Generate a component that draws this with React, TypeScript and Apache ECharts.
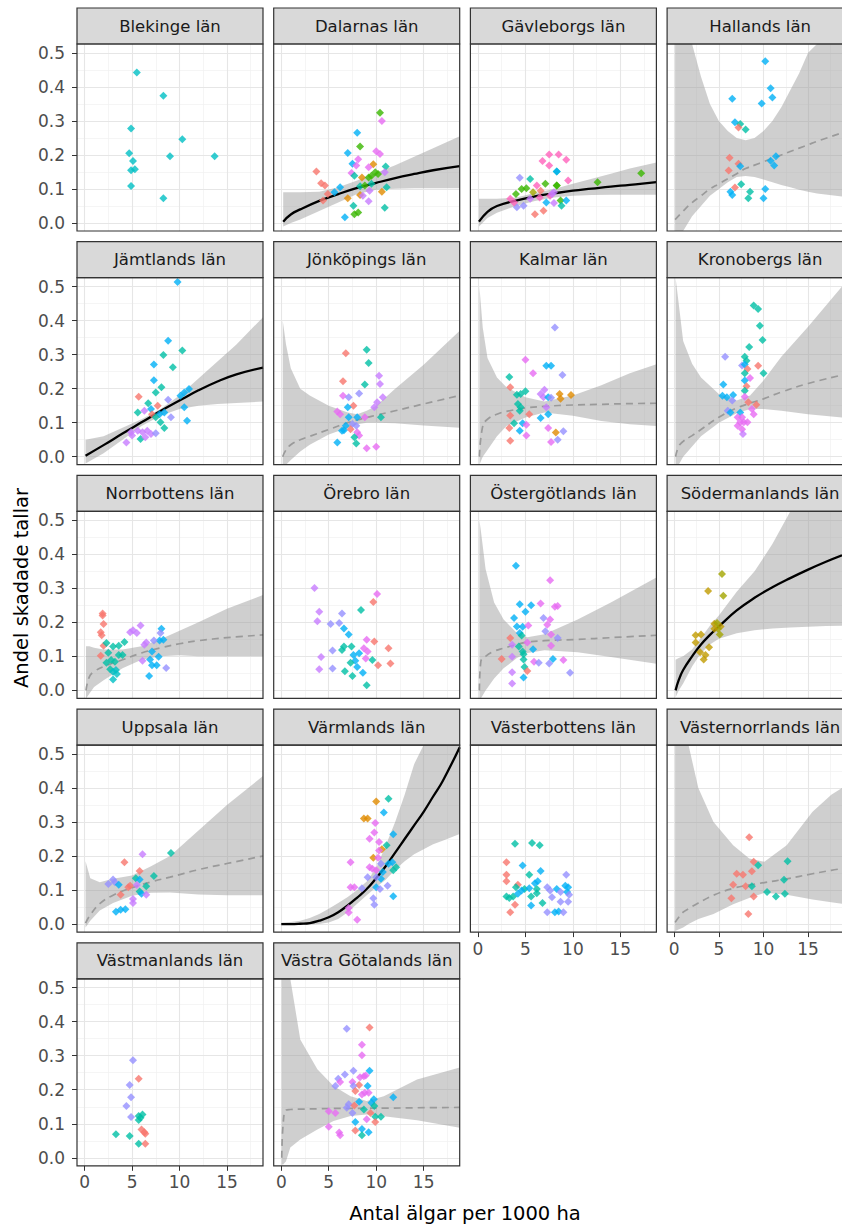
import React, { useEffect, useRef } from "react";
import * as echarts from "echarts";

type Pt = [number, number, string];

const COLORS: Record<string, string> = {
  r: "#F8766D", o: "#E08B00", y: "#C09B00", l: "#A3A500", g: "#39B600",
  t: "#00BFA5", c: "#00BFC4", b: "#00B0F6", v: "#9590FF", u: "#C77CFF",
  m: "#E76BF3", p: "#FF62BC",
};

const xMajor = [0, 5, 10, 15];
const xMinor = [2.5, 7.5, 12.5, 17.5];
const yMajor = [0, 0.1, 0.2, 0.3, 0.4, 0.5];
const yMinor = [0.05, 0.15, 0.25, 0.35, 0.45];

const countyNames = [
  "Blekinge län", "Dalarnas län", "Gävleborgs län", "Hallands län",
  "Jämtlands län", "Jönköpings län", "Kalmar län", "Kronobergs län",
  "Norrbottens län", "Örebro län", "Östergötlands län", "Södermanlands län",
  "Uppsala län", "Värmlands län", "Västerbottens län", "Västernorrlands län",
  "Västmanlands län", "Västra Götalands län",
];

// ---------- points ----------
const blekingePts: Pt[] = [[5.5,0.442,"c"],[8.3,0.374,"c"],[4.9,0.278,"c"],[10.3,0.246,"c"],[4.7,0.205,"c"],[9.0,0.196,"c"],[13.7,0.196,"c"],[5.1,0.182,"c"],[4.9,0.155,"c"],[5.3,0.158,"c"],[4.9,0.109,"c"],[8.3,0.073,"c"]];
const dalarnaPts: Pt[] = [[10.4,0.324,"g"],[10.6,0.300,"m"],[8.0,0.265,"b"],[8.3,0.225,"g"],[7.0,0.206,"b"],[8.1,0.187,"m"],[10.0,0.211,"m"],[10.4,0.203,"m"],[3.7,0.151,"r"],[7.5,0.174,"b"],[7.9,0.169,"m"],[9.7,0.173,"o"],[9.2,0.164,"m"],[11.0,0.166,"t"],[7.4,0.147,"m"],[7.7,0.139,"t"],[8.5,0.134,"o"],[9.2,0.134,"g"],[9.5,0.139,"g"],[9.9,0.149,"g"],[10.2,0.144,"g"],[10.9,0.149,"u"],[4.2,0.117,"r"],[4.6,0.110,"r"],[6.2,0.105,"b"],[5.6,0.090,"b"],[4.9,0.085,"r"],[8.3,0.108,"t"],[8.8,0.110,"g"],[11.1,0.105,"t"],[10.6,0.092,"o"],[9.3,0.095,"u"],[7.0,0.073,"o"],[8.3,0.082,"o"],[8.6,0.080,"u"],[7.6,0.051,"t"],[9.2,0.064,"u"],[7.7,0.026,"g"],[8.1,0.031,"g"],[6.7,0.017,"b"],[10.9,0.045,"t"],[4.4,0.066,"r"],[9.5,0.115,"t"]];
const gavleborgPts: Pt[] = [[7.5,0.201,"p"],[6.8,0.182,"p"],[4.4,0.133,"v"],[5.5,0.129,"t"],[8.3,0.151,"t"],[7.5,0.169,"p"],[4.6,0.100,"g"],[5.1,0.102,"g"],[6.2,0.110,"p"],[7.1,0.115,"g"],[8.3,0.110,"g"],[3.4,0.071,"p"],[4.1,0.046,"v"],[4.8,0.051,"v"],[6.0,0.026,"r"],[6.9,0.036,"r"],[5.5,0.071,"u"],[6.5,0.075,"p"],[7.6,0.080,"p"],[8.0,0.090,"u"],[8.5,0.201,"p"],[9.3,0.186,"p"],[8.3,0.151,"b"],[9.5,0.125,"p"],[8.3,0.110,"g"],[7.8,0.085,"u"],[8.7,0.066,"g"],[8.8,0.051,"t"],[9.3,0.066,"b"],[8.0,0.059,"u"],[12.6,0.120,"g"],[17.2,0.146,"g"],[5.8,0.090,"l"],[6.6,0.095,"r"],[4.0,0.085,"g"],[7.2,0.060,"b"],[3.8,0.060,"p"]];
const hallandPts: Pt[] = [[10.2,0.475,"b"],[10.8,0.396,"b"],[11.0,0.369,"b"],[9.8,0.351,"b"],[6.5,0.365,"b"],[6.8,0.296,"b"],[7.4,0.291,"t"],[7.2,0.281,"r"],[8.0,0.275,"t"],[6.2,0.192,"r"],[7.2,0.174,"r"],[7.4,0.167,"b"],[6.1,0.154,"r"],[11.4,0.196,"b"],[10.8,0.183,"b"],[11.2,0.169,"b"],[7.5,0.114,"t"],[6.8,0.104,"r"],[6.3,0.092,"b"],[6.5,0.082,"b"],[8.5,0.092,"t"],[8.3,0.073,"t"],[10.2,0.100,"b"],[10.0,0.073,"b"]];
const jamtlandPts: Pt[] = [[9.8,0.513,"b"],[8.8,0.341,"b"],[10.3,0.312,"t"],[8.3,0.299,"t"],[7.3,0.271,"b"],[9.3,0.263,"t"],[7.3,0.225,"b"],[8.1,0.204,"t"],[7.5,0.189,"t"],[11.0,0.199,"b"],[10.5,0.189,"b"],[10.1,0.179,"b"],[5.7,0.176,"r"],[8.8,0.167,"v"],[6.7,0.157,"t"],[5.6,0.130,"t"],[6.3,0.135,"u"],[7.0,0.140,"b"],[7.7,0.150,"r"],[7.1,0.125,"r"],[7.9,0.125,"b"],[8.4,0.130,"b"],[9.1,0.116,"v"],[7.5,0.116,"t"],[10.5,0.145,"b"],[10.8,0.106,"b"],[8.0,0.101,"t"],[8.4,0.084,"t"],[5.6,0.076,"u"],[6.1,0.072,"u"],[6.6,0.076,"u"],[5.0,0.062,"u"],[7.0,0.067,"u"],[7.5,0.069,"v"],[4.4,0.042,"u"],[5.9,0.052,"t"],[6.4,0.057,"u"],[4.9,0.072,"u"]];
const jonkopingPts: Pt[] = [[6.8,0.304,"r"],[9.0,0.314,"t"],[9.2,0.275,"t"],[6.5,0.222,"r"],[10.3,0.238,"u"],[10.4,0.214,"u"],[8.8,0.212,"t"],[8.2,0.186,"v"],[6.5,0.179,"m"],[7.1,0.175,"v"],[7.6,0.150,"r"],[7.0,0.145,"b"],[10.7,0.175,"u"],[10.1,0.160,"u"],[9.8,0.145,"u"],[5.9,0.133,"m"],[6.2,0.125,"m"],[7.1,0.116,"b"],[8.0,0.116,"b"],[8.8,0.116,"m"],[10.5,0.116,"t"],[7.5,0.096,"v"],[6.6,0.078,"b"],[7.3,0.081,"r"],[8.0,0.072,"m"],[8.2,0.062,"m"],[5.9,0.042,"b"],[7.7,0.057,"t"],[7.9,0.039,"t"],[9.0,0.025,"m"],[10.0,0.029,"m"],[6.8,0.091,"b"],[6.4,0.076,"b"],[7.9,0.091,"v"]];
const kalmarPts: Pt[] = [[8.1,0.380,"v"],[5.0,0.285,"m"],[7.2,0.267,"b"],[7.7,0.267,"b"],[5.8,0.245,"m"],[8.9,0.240,"v"],[3.3,0.234,"t"],[3.4,0.204,"r"],[4.1,0.182,"t"],[4.5,0.184,"t"],[5.0,0.192,"t"],[6.6,0.184,"u"],[7.0,0.197,"u"],[6.9,0.175,"u"],[7.4,0.175,"b"],[7.7,0.173,"v"],[8.6,0.184,"o"],[8.7,0.170,"o"],[9.8,0.181,"o"],[4.2,0.155,"t"],[4.5,0.145,"t"],[4.4,0.135,"t"],[5.4,0.125,"r"],[7.2,0.145,"u"],[7.4,0.125,"b"],[3.4,0.121,"r"],[6.6,0.114,"b"],[3.8,0.098,"t"],[4.7,0.098,"b"],[5.1,0.094,"m"],[3.3,0.084,"r"],[4.4,0.076,"b"],[7.4,0.084,"m"],[8.2,0.071,"o"],[9.0,0.075,"v"],[5.1,0.062,"m"],[3.4,0.047,"r"],[7.7,0.043,"m"],[8.4,0.050,"v"]];
const kronobergPts: Pt[] = [[8.9,0.444,"t"],[9.4,0.434,"t"],[9.6,0.385,"t"],[9.9,0.343,"t"],[8.4,0.322,"t"],[5.7,0.294,"v"],[7.9,0.294,"t"],[8.1,0.282,"t"],[7.6,0.268,"v"],[7.9,0.271,"b"],[9.4,0.267,"r"],[8.2,0.258,"r"],[10.0,0.245,"t"],[7.9,0.245,"t"],[8.5,0.231,"m"],[7.9,0.224,"b"],[8.1,0.207,"r"],[7.9,0.194,"t"],[5.5,0.212,"b"],[5.4,0.179,"b"],[5.9,0.175,"b"],[6.6,0.181,"b"],[6.5,0.165,"v"],[7.9,0.176,"m"],[8.3,0.160,"r"],[9.2,0.153,"r"],[6.0,0.135,"v"],[6.3,0.130,"b"],[7.4,0.130,"b"],[8.7,0.140,"m"],[8.9,0.125,"m"],[7.1,0.116,"m"],[7.6,0.116,"m"],[7.8,0.101,"m"],[7.4,0.101,"m"],[8.2,0.101,"m"],[7.6,0.081,"m"],[7.7,0.067,"u"],[7.1,0.091,"m"]];
const norrbottenPts: Pt[] = [[1.9,0.226,"r"],[1.9,0.220,"r"],[2.0,0.195,"r"],[1.7,0.171,"r"],[1.8,0.162,"r"],[2.0,0.131,"r"],[1.7,0.102,"r"],[2.3,0.139,"t"],[2.5,0.111,"t"],[3.0,0.129,"t"],[3.6,0.131,"t"],[4.2,0.142,"t"],[2.3,0.081,"t"],[2.8,0.089,"t"],[3.2,0.084,"t"],[3.6,0.104,"t"],[4.0,0.104,"t"],[2.7,0.062,"t"],[3.0,0.055,"c"],[3.3,0.060,"c"],[3.0,0.032,"c"],[3.4,0.048,"c"],[4.8,0.171,"u"],[5.1,0.177,"u"],[5.5,0.169,"u"],[5.9,0.191,"u"],[6.5,0.141,"u"],[6.3,0.134,"u"],[6.1,0.087,"u"],[7.1,0.114,"b"],[6.9,0.091,"b"],[6.8,0.042,"b"],[7.1,0.074,"b"],[7.6,0.074,"b"],[8.1,0.181,"b"],[8.0,0.169,"v"],[7.9,0.147,"b"],[8.3,0.149,"b"],[7.8,0.099,"b"],[8.6,0.066,"v"],[7.3,0.147,"v"]];
const orebroPts: Pt[] = [[3.5,0.301,"u"],[4.0,0.231,"u"],[3.8,0.203,"u"],[4.2,0.098,"u"],[4.0,0.062,"u"],[5.4,0.064,"v"],[5.4,0.117,"v"],[5.2,0.195,"v"],[6.1,0.198,"v"],[6.4,0.226,"v"],[6.6,0.182,"b"],[7.1,0.164,"b"],[6.4,0.119,"t"],[6.6,0.129,"t"],[7.4,0.129,"t"],[7.6,0.104,"b"],[8.2,0.109,"b"],[7.8,0.087,"b"],[8.0,0.069,"b"],[7.3,0.081,"t"],[6.7,0.056,"t"],[7.5,0.042,"t"],[8.4,0.236,"t"],[8.6,0.052,"b"],[9.0,0.015,"t"],[9.6,0.089,"t"],[9.0,0.149,"m"],[8.7,0.124,"m"],[9.1,0.114,"m"],[8.9,0.094,"m"],[9.7,0.260,"r"],[10.1,0.283,"m"],[9.8,0.144,"r"],[10.2,0.074,"r"],[11.3,0.124,"r"],[11.5,0.079,"r"]];
const ostergotlandPts: Pt[] = [[4.0,0.366,"b"],[7.6,0.324,"m"],[4.4,0.253,"b"],[5.6,0.250,"b"],[6.6,0.255,"m"],[8.1,0.246,"m"],[8.4,0.248,"m"],[5.0,0.231,"b"],[3.8,0.213,"b"],[6.9,0.213,"v"],[7.6,0.208,"m"],[7.3,0.193,"m"],[4.1,0.188,"b"],[4.7,0.187,"b"],[5.3,0.191,"m"],[7.1,0.174,"v"],[4.4,0.169,"b"],[4.6,0.161,"t"],[7.7,0.164,"m"],[8.4,0.154,"v"],[3.4,0.154,"r"],[3.6,0.134,"u"],[5.2,0.141,"m"],[4.3,0.129,"t"],[7.7,0.131,"m"],[4.7,0.114,"t"],[4.8,0.106,"t"],[5.8,0.121,"b"],[2.5,0.092,"r"],[3.6,0.099,"u"],[4.8,0.091,"t"],[5.9,0.084,"m"],[6.4,0.081,"v"],[7.5,0.079,"v"],[7.9,0.092,"b"],[9.0,0.089,"m"],[4.9,0.069,"t"],[5.2,0.057,"r"],[3.6,0.053,"u"],[9.7,0.052,"v"],[4.8,0.038,"b"],[3.6,0.020,"u"]];
const sodermanlandPts: Pt[] = [[5.35,0.342,"l"],[3.8,0.292,"y"],[5.5,0.278,"l"],[4.5,0.196,"y"],[4.8,0.198,"l"],[5.2,0.188,"y"],[4.9,0.181,"l"],[4.5,0.181,"y"],[5.1,0.164,"l"],[2.4,0.162,"y"],[3.0,0.164,"y"],[2.4,0.141,"y"],[3.9,0.127,"y"],[2.9,0.112,"y"],[3.5,0.104,"y"],[3.3,0.091,"y"]];
const uppsalaPts: Pt[] = [[6.1,0.205,"u"],[9.1,0.209,"t"],[4.2,0.182,"r"],[5.8,0.156,"r"],[7.3,0.141,"t"],[5.4,0.135,"t"],[5.8,0.131,"b"],[3.0,0.131,"v"],[2.5,0.118,"v"],[3.2,0.123,"v"],[3.6,0.116,"b"],[4.8,0.113,"r"],[5.5,0.115,"u"],[6.5,0.111,"t"],[5.8,0.096,"t"],[6.0,0.089,"b"],[6.5,0.086,"u"],[3.8,0.086,"r"],[5.1,0.074,"u"],[5.1,0.062,"u"],[3.3,0.036,"b"],[3.8,0.042,"b"],[4.3,0.044,"b"],[4.6,0.108,"r"]];
const varmlandPts: Pt[] = [[11.3,0.368,"t"],[10.0,0.360,"o"],[10.8,0.328,"b"],[8.7,0.310,"o"],[9.1,0.310,"o"],[9.9,0.297,"m"],[9.8,0.269,"m"],[11.8,0.264,"b"],[9.3,0.251,"m"],[10.3,0.241,"m"],[11.1,0.232,"t"],[10.6,0.220,"o"],[10.3,0.216,"m"],[9.7,0.195,"o"],[10.2,0.195,"m"],[7.3,0.182,"m"],[10.5,0.177,"v"],[9.3,0.167,"m"],[9.6,0.163,"m"],[10.0,0.158,"m"],[11.3,0.177,"b"],[11.7,0.182,"b"],[12.1,0.167,"t"],[11.8,0.158,"t"],[10.7,0.153,"b"],[10.5,0.133,"b"],[9.1,0.138,"v"],[10.0,0.138,"v"],[7.3,0.108,"m"],[7.7,0.108,"m"],[8.5,0.105,"v"],[10.0,0.108,"b"],[10.4,0.103,"v"],[11.2,0.113,"v"],[11.8,0.082,"b"],[9.7,0.076,"v"],[9.8,0.057,"v"],[7.1,0.047,"m"],[7.1,0.034,"m"],[8.0,0.013,"m"]];
const vasterbottenPts: Pt[] = [[3.9,0.236,"t"],[5.7,0.238,"t"],[6.5,0.232,"t"],[3.0,0.182,"r"],[4.7,0.172,"b"],[6.6,0.156,"b"],[5.4,0.145,"t"],[3.0,0.145,"r"],[3.0,0.126,"r"],[6.3,0.126,"b"],[6.0,0.120,"b"],[4.2,0.116,"r"],[4.0,0.108,"t"],[4.9,0.103,"t"],[5.4,0.105,"b"],[6.2,0.103,"t"],[3.0,0.081,"t"],[3.3,0.077,"t"],[3.7,0.081,"t"],[4.2,0.089,"b"],[4.6,0.099,"b"],[5.6,0.081,"t"],[6.2,0.091,"t"],[3.9,0.057,"r"],[3.4,0.035,"r"],[5.6,0.055,"b"],[6.8,0.062,"t"],[7.3,0.108,"v"],[7.6,0.099,"v"],[8.3,0.103,"b"],[8.7,0.094,"v"],[9.4,0.094,"b"],[9.5,0.108,"b"],[9.3,0.145,"v"],[9.2,0.113,"b"],[8.7,0.066,"v"],[9.5,0.066,"v"],[7.3,0.035,"v"],[8.1,0.035,"b"],[8.5,0.037,"b"],[9.0,0.035,"v"],[9.6,0.086,"v"],[7.8,0.079,"v"]];
const vasternorrlandPts: Pt[] = [[8.4,0.255,"r"],[8.9,0.183,"r"],[9.4,0.173,"t"],[8.7,0.155,"r"],[12.7,0.185,"t"],[7.0,0.148,"r"],[7.7,0.145,"r"],[12.3,0.130,"t"],[6.6,0.116,"r"],[8.0,0.111,"r"],[8.7,0.111,"t"],[10.4,0.094,"t"],[11.4,0.081,"t"],[12.4,0.089,"t"],[6.4,0.076,"r"],[8.9,0.081,"r"],[8.3,0.030,"r"]];
const vastmanlandPts: Pt[] = [[5.1,0.287,"v"],[5.7,0.232,"r"],[4.75,0.214,"v"],[4.9,0.178,"v"],[4.4,0.152,"v"],[4.9,0.120,"v"],[5.7,0.123,"t"],[6.1,0.127,"t"],[5.9,0.118,"t"],[5.7,0.111,"t"],[6.0,0.083,"r"],[6.3,0.075,"r"],[6.4,0.071,"r"],[3.3,0.069,"t"],[4.75,0.064,"t"],[5.7,0.041,"t"],[6.4,0.041,"r"]];
const vastraGotalandPts: Pt[] = [[6.9,0.379,"v"],[9.3,0.383,"r"],[8.5,0.332,"m"],[8.5,0.301,"m"],[9.3,0.256,"b"],[7.6,0.256,"v"],[6.7,0.245,"v"],[6.0,0.232,"v"],[6.2,0.223,"m"],[5.7,0.211,"v"],[7.5,0.223,"m"],[8.3,0.237,"m"],[8.7,0.240,"m"],[8.9,0.242,"m"],[8.2,0.214,"r"],[9.1,0.211,"b"],[7.6,0.211,"v"],[7.8,0.196,"r"],[8.8,0.191,"m"],[9.2,0.191,"m"],[8.5,0.186,"m"],[11.8,0.178,"b"],[9.75,0.172,"b"],[9.5,0.162,"b"],[8.2,0.165,"b"],[7.1,0.157,"v"],[7.7,0.154,"r"],[9.8,0.152,"t"],[6.9,0.147,"v"],[8.7,0.142,"t"],[5.0,0.137,"m"],[5.7,0.132,"m"],[7.5,0.132,"v"],[9.4,0.132,"r"],[9.9,0.121,"t"],[10.5,0.121,"t"],[9.0,0.113,"m"],[9.9,0.105,"r"],[7.8,0.105,"b"],[5.0,0.091,"m"],[8.5,0.085,"b"],[7.8,0.080,"r"],[9.2,0.075,"b"],[6.1,0.074,"m"],[6.2,0.066,"m"],[8.5,0.066,"t"]];

// ---------- fitted curves and confidence bands ----------
const dalarnaX = [0.2, 1, 2, 4, 6, 8, 10, 12, 14, 16, 18.8];
const dalarnaFit = [0.004, 0.025, 0.040, 0.065, 0.085, 0.103, 0.118, 0.132, 0.144, 0.155, 0.167];
const dalarnaLo = [-0.01, 0.0, 0.01, 0.035, 0.06, 0.085, 0.098, 0.101, 0.102, 0.102, 0.102];
const dalarnaHi = [0.09, 0.09, 0.09, 0.092, 0.105, 0.125, 0.148, 0.17, 0.195, 0.22, 0.255];

const gavleborgX = [0.1, 1, 2, 4, 6, 8, 10, 12, 14, 16, 18.8];
const gavleborgFit = [0.004, 0.033, 0.05, 0.066, 0.078, 0.087, 0.095, 0.101, 0.107, 0.112, 0.12];
const gavleborgLo = [-0.01, 0.015, 0.03, 0.05, 0.065, 0.075, 0.08, 0.082, 0.083, 0.083, 0.083];
const gavleborgHi = [0.071, 0.071, 0.071, 0.075, 0.088, 0.10, 0.115, 0.13, 0.145, 0.16, 0.178];

const hallandX = [0.1, 1, 2, 3, 4, 5, 6, 7, 8, 9, 10, 11, 12, 13, 14, 15, 16, 18.8];
const hallandFit = [0.01, 0.035, 0.06, 0.08, 0.10, 0.115, 0.13, 0.145, 0.16, 0.17, 0.18, 0.19, 0.20, 0.21, 0.22, 0.23, 0.24, 0.265];
const hallandLo = [-0.05, -0.03, 0.02, 0.05, 0.08, 0.10, 0.12, 0.135, 0.138, 0.135, 0.128, 0.12, 0.112, 0.105, 0.098, 0.092, 0.087, 0.078];
const hallandHi = [0.9, 0.8, 0.54, 0.43, 0.35, 0.30, 0.27, 0.25, 0.243, 0.25, 0.27, 0.30, 0.34, 0.39, 0.44, 0.50, 0.56, 0.8];

const jamtlandX = [0.1, 2, 4, 6, 8, 10, 12, 14, 16, 18.8];
const jamtlandFit = [0.003, 0.034, 0.068, 0.101, 0.134, 0.165, 0.195, 0.221, 0.242, 0.262];
const jamtlandLo = [-0.02, 0.01, 0.05, 0.09, 0.12, 0.14, 0.15, 0.155, 0.158, 0.162];
const jamtlandHi = [0.05, 0.06, 0.085, 0.11, 0.14, 0.18, 0.23, 0.28, 0.33, 0.41];

const jonkopingX = [0.15, 0.5, 1, 2, 3, 5, 7, 8, 9, 10, 12, 15, 18.8];
const jonkopingFit = [0.0, 0.02, 0.035, 0.05, 0.06, 0.08, 0.1, 0.108, 0.115, 0.122, 0.135, 0.155, 0.18];
const jonkopingLo = [-0.05, -0.03, -0.01, 0.015, 0.035, 0.065, 0.085, 0.095, 0.1, 0.1, 0.098, 0.092, 0.085];
const jonkopingHi = [0.40, 0.33, 0.26, 0.2, 0.18, 0.15, 0.13, 0.125, 0.135, 0.15, 0.2, 0.27, 0.37];

const kalmarX = [0.15, 0.5, 1, 2, 3, 5, 7, 10, 13, 16, 18.8];
const kalmarFit = [0.0, 0.09, 0.11, 0.125, 0.133, 0.143, 0.148, 0.152, 0.154, 0.156, 0.157];
const kalmarLo = [-0.05, 0.0, 0.02, 0.06, 0.09, 0.115, 0.13, 0.12, 0.105, 0.095, 0.09];
const kalmarHi = [0.50, 0.38, 0.29, 0.233, 0.204, 0.175, 0.162, 0.18, 0.21, 0.245, 0.272];

const kronobergX = [0.15, 0.5, 1, 2, 3, 5, 7, 8.5, 10, 12, 15, 18.8];
const kronobergFit = [0.0, 0.03, 0.045, 0.062, 0.08, 0.116, 0.143, 0.157, 0.17, 0.19, 0.215, 0.24];
const kronobergLo = [-0.05, -0.03, 0.0, 0.03, 0.06, 0.1, 0.128, 0.14, 0.14, 0.135, 0.125, 0.115];
const kronobergHi = [0.55, 0.45, 0.34, 0.273, 0.233, 0.184, 0.165, 0.18, 0.224, 0.294, 0.382, 0.50];

const norrbottenX = [0.15, 0.5, 1, 2, 4, 6, 8, 10, 12, 15, 18.8];
const norrbottenFit = [0.0, 0.04, 0.055, 0.07, 0.09, 0.11, 0.125, 0.137, 0.146, 0.155, 0.163];
const norrbottenLo = [-0.03, -0.01, 0.01, 0.03, 0.065, 0.09, 0.1, 0.103, 0.1, 0.1, 0.1];
const norrbottenHi = [0.13, 0.13, 0.125, 0.12, 0.12, 0.13, 0.15, 0.175, 0.2, 0.24, 0.28];

const ostergotlandX = [0.15, 0.3, 0.8, 1.7, 2.7, 4.1, 5.2, 7, 10.5, 14, 18.8];
const ostergotlandFit = [0.0, 0.085, 0.1, 0.115, 0.124, 0.135, 0.142, 0.146, 0.15, 0.155, 0.162];
const ostergotlandLo = [-0.05, -0.03, 0.0, 0.035, 0.065, 0.095, 0.11, 0.118, 0.112, 0.098, 0.078];
const ostergotlandHi = [0.5, 0.47, 0.357, 0.258, 0.208, 0.169, 0.156, 0.165, 0.208, 0.258, 0.332];

const sodermanlandX = [0.15, 0.5, 1, 2, 3, 4, 5, 7, 9, 11, 13, 15, 17, 18.8];
const sodermanlandFit = [0.0, 0.03, 0.06, 0.10, 0.135, 0.163, 0.188, 0.235, 0.272, 0.303, 0.33, 0.355, 0.378, 0.397];
const sodermanlandLo = [-0.02, 0.0, 0.02, 0.07, 0.11, 0.135, 0.152, 0.168, 0.177, 0.182, 0.185, 0.187, 0.189, 0.19];
const sodermanlandHi = [0.09, 0.095, 0.1, 0.12, 0.155, 0.19, 0.22, 0.29, 0.35, 0.43, 0.53, 0.62, 0.72, 0.8];

const uppsalaX = [0.1, 0.6, 1.6, 3, 5, 7, 9, 12, 15, 18.8];
const uppsalaFit = [0.003, 0.027, 0.06, 0.085, 0.107, 0.124, 0.138, 0.16, 0.178, 0.2];
const uppsalaLo = [-0.01, 0.01, 0.04, 0.062, 0.083, 0.092, 0.093, 0.087, 0.085, 0.085];
const uppsalaHi = [0.185, 0.135, 0.123, 0.133, 0.143, 0.17, 0.2, 0.275, 0.35, 0.435];

const varmlandX = [0, 1, 2, 3, 4, 5, 6, 7, 8, 9, 10, 11, 12, 13, 14, 15, 16, 17, 18.8];
const varmlandFit = [0.0, 0.0, 0.001, 0.003, 0.01, 0.02, 0.035, 0.055, 0.078, 0.103, 0.135, 0.17, 0.21, 0.25, 0.29, 0.33, 0.375, 0.42, 0.52];
const varmlandLo = [-0.002, -0.002, -0.002, -0.001, 0.0, 0.005, 0.015, 0.035, 0.06, 0.085, 0.108, 0.13, 0.16, 0.185, 0.205, 0.22, 0.235, 0.245, 0.265];
const varmlandHi = [0.004, 0.006, 0.01, 0.018, 0.03, 0.045, 0.062, 0.08, 0.1, 0.125, 0.165, 0.23, 0.3, 0.38, 0.47, 0.56, 0.65, 0.74, 0.9];

const vasternorrlandX = [0.1, 1, 1.6, 2.7, 4.4, 6.6, 8.4, 10.1, 12.6, 15.5, 17.6, 18.8];
const vasternorrlandFit = [0.005, 0.035, 0.045, 0.062, 0.085, 0.105, 0.115, 0.122, 0.133, 0.148, 0.158, 0.163];
const vasternorrlandLo = [-0.02, -0.01, 0.0, 0.015, 0.03, 0.058, 0.077, 0.092, 0.086, 0.072, 0.064, 0.06];
const vasternorrlandHi = [0.9, 0.7, 0.526, 0.4, 0.3, 0.232, 0.193, 0.183, 0.232, 0.33, 0.38, 0.40];

const vastraGotalandX = [0.05, 0.2, 0.5, 0.95, 2, 3.8, 5.5, 7.3, 9, 10.8, 14.3, 18.8];
const vastraGotalandFit = [0.0, 0.1, 0.14, 0.142, 0.143, 0.144, 0.145, 0.145, 0.146, 0.146, 0.147, 0.148];
const vastraGotalandLo = [-0.02, -0.02, -0.01, 0.03, 0.054, 0.083, 0.108, 0.123, 0.127, 0.122, 0.11, 0.088];
const vastraGotalandHi = [0.9, 0.9, 0.8, 0.53, 0.348, 0.26, 0.211, 0.181, 0.167, 0.181, 0.23, 0.265];

type Fit = { x: number[]; fit: number[]; lo: number[]; hi: number[]; solid: boolean } | null;

const panelPts: Pt[][] = [
  blekingePts, dalarnaPts, gavleborgPts, hallandPts, jamtlandPts, jonkopingPts,
  kalmarPts, kronobergPts, norrbottenPts, orebroPts, ostergotlandPts, sodermanlandPts,
  uppsalaPts, varmlandPts, vasterbottenPts, vasternorrlandPts, vastmanlandPts, vastraGotalandPts,
];
const panelFits: Fit[] = [
  null,
  { x: dalarnaX, fit: dalarnaFit, lo: dalarnaLo, hi: dalarnaHi, solid: true },
  { x: gavleborgX, fit: gavleborgFit, lo: gavleborgLo, hi: gavleborgHi, solid: true },
  { x: hallandX, fit: hallandFit, lo: hallandLo, hi: hallandHi, solid: false },
  { x: jamtlandX, fit: jamtlandFit, lo: jamtlandLo, hi: jamtlandHi, solid: true },
  { x: jonkopingX, fit: jonkopingFit, lo: jonkopingLo, hi: jonkopingHi, solid: false },
  { x: kalmarX, fit: kalmarFit, lo: kalmarLo, hi: kalmarHi, solid: false },
  { x: kronobergX, fit: kronobergFit, lo: kronobergLo, hi: kronobergHi, solid: false },
  { x: norrbottenX, fit: norrbottenFit, lo: norrbottenLo, hi: norrbottenHi, solid: false },
  null,
  { x: ostergotlandX, fit: ostergotlandFit, lo: ostergotlandLo, hi: ostergotlandHi, solid: false },
  { x: sodermanlandX, fit: sodermanlandFit, lo: sodermanlandLo, hi: sodermanlandHi, solid: true },
  { x: uppsalaX, fit: uppsalaFit, lo: uppsalaLo, hi: uppsalaHi, solid: false },
  { x: varmlandX, fit: varmlandFit, lo: varmlandLo, hi: varmlandHi, solid: true },
  null,
  { x: vasternorrlandX, fit: vasternorrlandFit, lo: vasternorrlandLo, hi: vasternorrlandHi, solid: false },
  null,
  { x: vastraGotalandX, fit: vastraGotalandFit, lo: vastraGotalandLo, hi: vastraGotalandHi, solid: false },
];

const xTitle = "Antal älgar per 1000 ha";
const yTitle = "Andel skadade tallar";

// ---------- layout ----------
const W = 842, H = 1227;
const PW = 186, PH = 187, SH = 36;
const colLeft = (c: number) => 77 + c * 196.7;
const rowTop = (r: number) => 8 + r * 233.7;
const X_MIN = -0.8, X_MAX = 18.8, Y_MIN = -0.0235, Y_MAX = 0.526;
const FONT = "'DejaVu Sans', 'Liberation Sans', sans-serif";
const xLabelPanels = [14, 15, 16, 17];

function buildOption() {
  const grids: any[] = [], xAxes: any[] = [], yAxes: any[] = [], series: any[] = [], graphics: any[] = [];
  const majorStyle = { color: "#E6E6E6", width: 1.1, type: "solid" };
  const minorStyle = { color: "#F1F1F1", width: 0.7, type: "solid" };

  countyNames.forEach((name, i) => {
    const r = Math.floor(i / 4), c = i % 4;
    const left = colLeft(c), top = rowTop(r);
    grids.push({ left, top: top + SH, width: PW, height: PH, show: false, containLabel: false });
    const showX = xLabelPanels.includes(i);
    const showY = c === 0;
    xAxes.push({
      gridIndex: i, type: "value", min: X_MIN, max: X_MAX,
      axisLine: { show: false, onZero: false }, splitLine: { show: false },
      axisTick: showX ? { show: true, customValues: xMajor, length: 5, lineStyle: { color: "#333333", width: 1 } } : { show: false },
      axisLabel: showX ? { show: true, customValues: xMajor, color: "#4D4D4D", fontSize: 17, fontFamily: FONT, margin: 8 } : { show: false },
    });
    yAxes.push({
      gridIndex: i, type: "value", min: Y_MIN, max: Y_MAX,
      axisLine: { show: false, onZero: false }, splitLine: { show: false },
      axisTick: showY ? { show: true, customValues: yMajor, length: 5, lineStyle: { color: "#333333", width: 1 } } : { show: false },
      axisLabel: showY ? { show: true, customValues: yMajor, color: "#4D4D4D", fontSize: 17, fontFamily: FONT, margin: 12, formatter: (v: number) => v.toFixed(1) } : { show: false },
    });

    const mk = (arr: number[], key: string, style: any) => arr.map((v) => ({ [key]: v, lineStyle: style }));
    series.push({
      type: "line", xAxisIndex: i, yAxisIndex: i, data: [], silent: true, z: 1,
      markLine: {
        z: 1, silent: true, symbol: ["none", "none"], label: { show: false }, animation: false,
        emphasis: { disabled: true },
        data: [
          ...mk(xMinor, "xAxis", minorStyle), ...mk(yMinor, "yAxis", minorStyle),
          ...mk(xMajor, "xAxis", majorStyle), ...mk(yMajor, "yAxis", majorStyle),
        ],
      },
    });

    const f = panelFits[i];
    if (f) {
      series.push({
        type: "custom", xAxisIndex: i, yAxisIndex: i, silent: true, z: 2,
        data: f.x.map((x, k) => [x, f.lo[k], f.hi[k]]),
        renderItem: (params: any, api: any) => {
          if (params.dataIndex !== 0) return null;
          const cs = params.coordSys;
          const y0 = cs.y, y1 = cs.y + cs.height;
          const clampY = (p: number[]) => [p[0], Math.min(y1, Math.max(y0, p[1]))];
          const upper = f.x.map((x, k) => clampY(api.coord([x, f.hi[k]])));
          const lower = f.x.map((x, k) => clampY(api.coord([x, f.lo[k]]))).reverse();
          return {
            type: "polygon",
            shape: { points: [...upper, ...lower] },
            style: { fill: "rgba(153,153,153,0.47)", stroke: "none" },
          };
        },
      });
      series.push({
        type: "line", xAxisIndex: i, yAxisIndex: i, silent: true, z: 3,
        data: f.x.map((x, k) => [x, f.fit[k]]), symbol: "none", showSymbol: false,
        smooth: 0.45,
        lineStyle: f.solid ? { color: "#000000", width: 2.3 } : { color: "#9A9A9A", width: 1.7, type: [7, 5] },
      });
    }

    series.push({
      type: "scatter", xAxisIndex: i, yAxisIndex: i, symbol: "diamond", symbolSize: 8, z: 4, silent: true,
      data: panelPts[i].map((p) => ({ value: [p[0], p[1]], itemStyle: { color: COLORS[p[2]] } })),
    });

    graphics.push({
      type: "rect", z: 100, shape: { x: left, y: top, width: PW, height: SH },
      style: { fill: "#D9D9D9", stroke: "#333333", lineWidth: 1.2 },
    });
    graphics.push({
      type: "text", z: 101, x: left + PW / 2, y: top + SH / 2,
      style: { text: name, fill: "#1A1A1A", font: `16.5px ${FONT}`, textAlign: "center", textVerticalAlign: "middle" },
    });
    graphics.push({
      type: "rect", z: 100, shape: { x: left, y: top + SH, width: PW, height: PH },
      style: { fill: "none", stroke: "#333333", lineWidth: 1.2 },
    });
  });

  graphics.push({
    type: "text", z: 101, x: 465, y: 1213,
    style: { text: xTitle, fill: "#000000", font: `19.5px ${FONT}`, textAlign: "center", textVerticalAlign: "middle" },
  });
  graphics.push({
    type: "text", z: 101, x: 21, y: 588, rotation: Math.PI / 2,
    style: { text: yTitle, fill: "#000000", font: `19.5px ${FONT}`, textAlign: "center", textVerticalAlign: "middle" },
  });

  return {
    animation: false,
    backgroundColor: "#FFFFFF",
    grid: grids, xAxis: xAxes, yAxis: yAxes, series, graphic: graphics,
  };
}

export default function App() {
  const ref = useRef<HTMLDivElement>(null);
  useEffect(() => {
    if (!ref.current) return;
    const chart = echarts.init(ref.current, undefined, { renderer: "svg" });
    chart.setOption(buildOption() as any);
    return () => chart.dispose();
  }, []);
  return (
    <div
      ref={ref}
      style={{ position: "absolute", left: 0, top: 0, width: W, height: H, overflow: "hidden", background: "#fff" }}
    />
  );
}
